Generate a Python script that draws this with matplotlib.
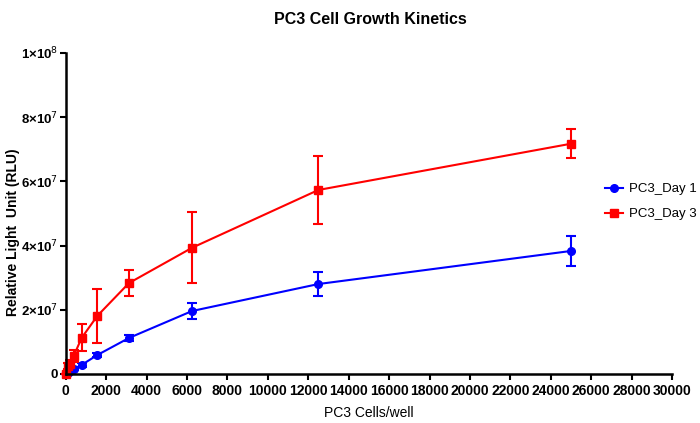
import matplotlib
matplotlib.use('Agg')
import matplotlib.pyplot as plt
from matplotlib.lines import Line2D

plt.rcParams['font.family'] = ['Liberation Sans', 'DejaVu Sans']

# celulas por pocillo (dilucion seriada)
celulas = [0, 97.7, 195.3, 390.6, 781.25, 1562.5, 3125, 6250, 12500, 25000]

# Dia 1
dia1 = [0.0, 0.04e7, 0.08e7, 0.15e7, 0.28e7, 0.59e7, 1.12e7, 1.96e7, 2.80e7, 3.83e7]
dia1_err = [0.0, 0.01e7, 0.02e7, 0.03e7, 0.05e7, 0.06e7, 0.08e7, 0.25e7, 0.37e7, 0.47e7]

# Dia 3
dia3 = [0.0, 0.25e7, 0.30e7, 0.56e7, 1.12e7, 1.81e7, 2.83e7, 3.93e7, 5.73e7, 7.17e7]
dia3_err = [0.0, 0.1e7, 0.12e7, 0.2e7, 0.42e7, 0.84e7, 0.40e7, 1.10e7, 1.07e7, 0.45e7]

yticks = [0, 2e7, 4e7, 6e7, 8e7, 1e8]
ylabels = ['0', r'2×10$^7$', r'4×10$^7$', r'6×10$^7$', r'8×10$^7$', r'1×10$^8$']

fig = plt.figure(figsize=(7, 4.23), dpi=100)
ax = fig.add_axes([0.094, 0.116, 0.866, 0.759])

ax.errorbar(celulas, dia1, yerr=dia1_err, color='#0000ff', marker='o', markersize=5.5,
            linewidth=1.5, capsize=3.5, elinewidth=1.5, capthick=1.5, clip_on=False)
ax.errorbar(celulas, dia3, yerr=dia3_err, color='#ff0000', marker='s', markersize=5.5,
            linewidth=1.5, capsize=3.5, elinewidth=1.5, capthick=1.5, clip_on=False)

ax.set_xlim(0, 30000)
ax.set_ylim(0, 1e8)
ax.set_xticks(range(0, 30001, 2000))
ax.set_yticks(yticks)
ax.set_yticklabels(ylabels)

for lbl in ax.get_xticklabels():
    lbl.set_fontweight('bold')
    lbl.set_fontsize(10)
for lbl in ax.get_yticklabels():
    lbl.set_fontweight('bold')
    lbl.set_fontsize(9.5)

ax.spines['top'].set_visible(False)
ax.spines['right'].set_visible(False)
ax.spines['left'].set_linewidth(1.8)
ax.spines['bottom'].set_linewidth(1.8)
ax.tick_params(width=1.5, length=4)
ax.tick_params(axis='y', pad=1.5)

ax.set_xlabel('PC3 Cells/well', fontsize=10)
ax.xaxis.set_label_coords(0.5, -0.1)
ax.set_ylabel('Relative Light  Unit (RLU)', fontsize=10, fontweight='bold')
ax.yaxis.set_label_coords(-0.075, 0.44)
fig.text(0.529, 0.953, 'PC3 Cell Growth Kinetics', ha='center', va='center',
         fontsize=11.5, fontweight='bold')

handles = [Line2D([], [], color='#0000ff', marker='o', markersize=5.5, linewidth=1.5),
           Line2D([], [], color='#ff0000', marker='s', markersize=5.5, linewidth=1.5)]
fig.legend(handles, ['PC3_Day 1', 'PC3_Day 3'], loc='upper left',
           bbox_to_anchor=(0.848, 0.595), frameon=False,
           fontsize=9.5, handlelength=1.3, handletextpad=0.5, labelspacing=0.95)

fig.savefig('out.png', dpi=100)
